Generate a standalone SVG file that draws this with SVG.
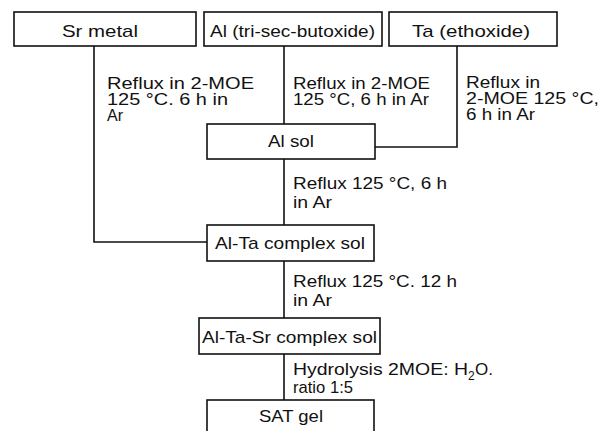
<svg xmlns="http://www.w3.org/2000/svg" width="600" height="431" viewBox="0 0 600 431">
<style>
.box{fill:#fff;stroke:#111;stroke-width:1.6}
.ln{fill:none;stroke:#111;stroke-width:1.6}
text{font-family:"Liberation Sans",Arial,sans-serif;font-size:17px;fill:#111}
</style>
<rect width="600" height="431" fill="#fff"/>
<g id="connectors">
<path class="ln" d="M94,46 V242 H207"/>
<path class="ln" d="M284,46 V124"/>
<path class="ln" d="M457,45 V147 H375"/>
<path class="ln" d="M284,159 V225"/>
<path class="ln" d="M284,261 V318"/>
<path class="ln" d="M284,354 V400"/>
</g>
<g id="sr-metal"><rect class="box" x="14" y="12" width="182" height="34"/><text x="62" y="37" textLength="76" lengthAdjust="spacingAndGlyphs">Sr metal</text></g>
<g id="al-butoxide"><rect class="box" x="204" y="12" width="178" height="34"/><text x="210" y="37" textLength="165" lengthAdjust="spacingAndGlyphs">Al (tri-sec-butoxide)</text></g>
<g id="ta-ethoxide"><rect class="box" x="389" y="12" width="168" height="34"/><text x="412" y="37" textLength="118" lengthAdjust="spacingAndGlyphs">Ta (ethoxide)</text></g>
<g id="label-sr">
<text x="107" y="89" textLength="147" lengthAdjust="spacingAndGlyphs">Reflux in 2-MOE</text>
<text x="107" y="105" textLength="121" lengthAdjust="spacingAndGlyphs">125 °C. 6 h in</text>
<text x="107" y="121" textLength="16" lengthAdjust="spacingAndGlyphs">Ar</text>
</g>
<g id="label-al">
<text x="293" y="89" textLength="137" lengthAdjust="spacingAndGlyphs">Reflux in 2-MOE</text>
<text x="293" y="105" textLength="136" lengthAdjust="spacingAndGlyphs">125 °C, 6 h in Ar</text>
</g>
<g id="label-ta">
<text x="466" y="88" textLength="74" lengthAdjust="spacingAndGlyphs">Reflux in</text>
<text x="466" y="104" textLength="133" lengthAdjust="spacingAndGlyphs">2-MOE 125 °C,</text>
<text x="466" y="120" textLength="69" lengthAdjust="spacingAndGlyphs">6 h in Ar</text>
</g>
<g id="al-sol"><rect class="box" x="207" y="124" width="168" height="35"/><text x="268" y="147" textLength="46" lengthAdjust="spacingAndGlyphs">Al sol</text></g>
<g id="label-alsol">
<text x="293" y="189" textLength="154" lengthAdjust="spacingAndGlyphs">Reflux 125 °C, 6 h</text>
<text x="293" y="208" textLength="39" lengthAdjust="spacingAndGlyphs">in Ar</text>
</g>
<g id="al-ta-complex"><rect class="box" x="207" y="225" width="167" height="36"/><text x="215" y="249" textLength="150" lengthAdjust="spacingAndGlyphs">Al-Ta complex sol</text></g>
<g id="label-alta">
<text x="293" y="287" textLength="164" lengthAdjust="spacingAndGlyphs">Reflux 125 °C. 12 h</text>
<text x="293" y="306" textLength="39" lengthAdjust="spacingAndGlyphs">in Ar</text>
</g>
<g id="al-ta-sr-complex"><rect class="box" x="199" y="318" width="181" height="36"/><text x="202" y="343" textLength="175" lengthAdjust="spacingAndGlyphs">Al-Ta-Sr complex sol</text></g>
<g id="label-hydrolysis">
<text x="293" y="375" textLength="175" lengthAdjust="spacingAndGlyphs">Hydrolysis 2MOE: H</text>
<text x="468" y="380" style="font-size:12px">2</text>
<text x="475" y="375">O.</text>
<text x="293" y="393" textLength="60" lengthAdjust="spacingAndGlyphs">ratio 1:5</text>
</g>
<g id="sat-gel"><rect class="box" x="207" y="400" width="167" height="40"/><text x="259" y="422" textLength="64" lengthAdjust="spacingAndGlyphs">SAT gel</text></g>
</svg>
